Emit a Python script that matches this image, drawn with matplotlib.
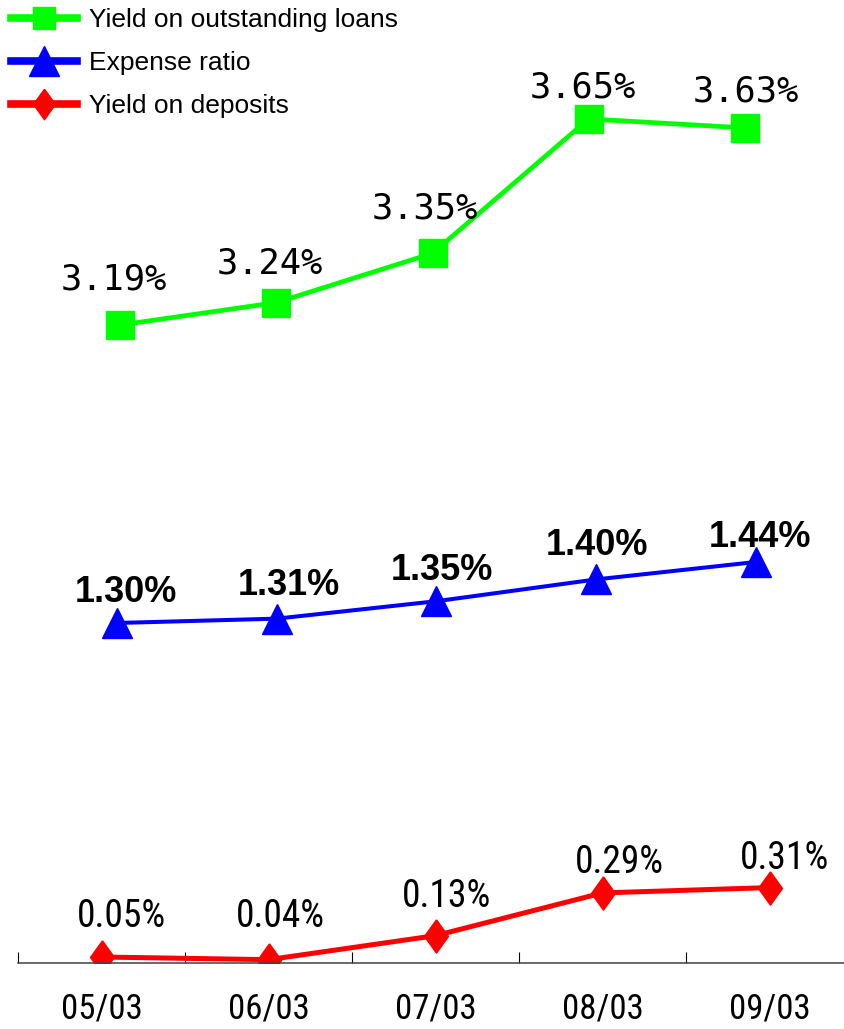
import matplotlib
matplotlib.use("Agg")
import matplotlib.pyplot as plt
from matplotlib.lines import Line2D
from matplotlib import font_manager
from matplotlib.font_manager import FontProperties

# ---- data ----
months = ["05/03", "06/03", "07/03", "08/03", "09/03"]
loan_yield = [3.19, 3.24, 3.35, 3.65, 3.63]
expense_ratio = [1.30, 1.31, 1.35, 1.40, 1.44]
deposit_yield = [0.05, 0.04, 0.13, 0.29, 0.31]

series_names = ["Yield on outstanding loans", "Expense ratio", "Yield on deposits"]

GREEN, BLUE, RED = "#00FF00", "#0000FF", "#FF0000"

W, H = 845, 1029
fig = plt.figure(figsize=(W / 100, H / 100), dpi=100)
fig.patch.set_facecolor("white")


def narrow_font():
    """Pick a condensed sans face if one is installed."""
    cands = []
    for f in font_manager.fontManager.ttflist:
        tag = (f.name + " " + f.fname).lower()
        if ("narrow" in tag or "condensed" in tag or str(f.stretch) in
                ("condensed", "semi-condensed", "extra-condensed")) and \
                f.style == "normal" and f.weight in (400, "normal", "regular") and "mono" not in tag \
                and "serif" not in tag.replace("sans", ""):
            score = 0 if "liberation" in tag else 1 if "roboto" in tag else 2
            cands.append((score, f.fname))
    if cands:
        cands.sort()
        return {"fname": cands[0][1]}, True
    return {"family": "Liberation Sans"}, False


nf_kw, has_narrow = narrow_font()


def narrow_props(size):
    return FontProperties(size=size if has_narrow else size * 0.8, **nf_kw)


def panel(left, right, top, bottom, y_at_top, y_at_bottom):
    """Axes placed by pixel box, with the value range spanning that box."""
    ax = fig.add_axes([left / W, (H - bottom) / H, (right - left) / W, (bottom - top) / H])
    ax.set_xlim(-0.5, len(months) - 0.5)
    ax.set_ylim(y_at_bottom, y_at_top)
    ax.patch.set_alpha(0)
    for s in ax.spines.values():
        s.set_visible(False)
    ax.set_yticks([])
    ax.set_xticks([])
    return ax


def value_range(v_ref, px_ref, px_per_unit, top, bottom):
    return v_ref + (px_ref - top) / px_per_unit, v_ref - (bottom - px_ref) / px_per_unit


x = list(range(len(months)))

# ---- loans panel ----
t, b = 60, 360
ax_g = panel(42, 823, t, b, *value_range(3.19, 325, 448, t, b))
ax_g.plot(x, loan_yield, color=GREEN, lw=3.4, marker="s", ms=19.5, mec=GREEN, mfc=GREEN,
          solid_joinstyle="miter")
g_dx = [-6, -6, -8, -6, 1]
g_dy = [35, 29, 35, 21, 26]
for xi, v, dx, dy in zip(x, loan_yield, g_dx, g_dy):
    ax_g.annotate(f"{v:.2f}%", (xi, v), xytext=(dx, dy), textcoords="offset pixels",
                  ha="center", va="baseline", fontsize=25.5, family="DejaVu Sans Mono",
                  color="black", annotation_clip=False)

# ---- expense ratio panel ----
t, b = 480, 660
ax_b = panel(37, 836, t, b, *value_range(1.30, 623, 436, t, b))
ax_b.plot(x, expense_ratio, color=BLUE, lw=2.9, marker="^", ms=21, mec=BLUE, mfc=BLUE)
b_dx = [9, 12, 5, 1, 4]
b_dy = [21, 24, 21.5, 24.5, 14.5]
for xi, v, dx, dy in zip(x, expense_ratio, b_dx, b_dy):
    ax_b.annotate(f"{v:.2f}%", (xi, v), xytext=(dx, dy), textcoords="offset pixels",
                  ha="center", va="baseline", fontsize=26, fontweight="bold",
                  family="Liberation Sans", color="black", annotation_clip=False)

# ---- deposits panel (carries the category axis) ----
t, b = 800, 963
ax_r = panel(18, 853, t, b, *value_range(0.05, 957, 267, t, b))
diamond = [(0, 1), (0.72, 0), (0, -1), (-0.72, 0), (0, 1)]
ax_r.plot(x, deposit_yield, color=RED, lw=3.6, marker=diamond, ms=24, mec=RED, mfc=RED)
r_dx = [20, 12, 11, 17, 15]
r_dy = [30, 33, 29, 20, 18.5]
for xi, v, dx, dy in zip(x, deposit_yield, r_dx, r_dy):
    ax_r.annotate(f"{v:.2f}%", (xi, v), xytext=(dx, dy), textcoords="offset pixels",
                  ha="center", va="baseline", fontproperties=narrow_props(27),
                  color="black", annotation_clip=False)

ax_r.spines["bottom"].set_visible(True)
ax_r.spines["bottom"].set_color("#404040")
ax_r.spines["bottom"].set_linewidth(1.1)
ax_r.set_xticks([i - 0.5 for i in range(len(months) + 1)])
ax_r.set_xticklabels([])
ax_r.tick_params(axis="x", which="major", direction="in", length=8, width=0.8, color="black")
ax_r.set_xticks(x, minor=True)
ax_r.set_xticklabels(months, minor=True, fontproperties=narrow_props(25))
ax_r.tick_params(axis="x", which="minor", length=0, pad=21)

# ---- legend ----
handles = [
    Line2D([], [], color=GREEN, lw=5.5, marker="s", ms=16, mec=GREEN, mfc=GREEN),
    Line2D([], [], color=BLUE, lw=5.5, marker="^", ms=22, mec=BLUE, mfc=BLUE),
    Line2D([], [], color=RED, lw=5.5, marker=diamond, ms=22, mec=RED, mfc=RED),
]
fig.legend(handles, series_names, loc="upper left", bbox_to_anchor=(6 / W, 1 - 3 / H),
           frameon=False, prop={"family": "Liberation Sans", "size": 19},
           handlelength=2.5, handletextpad=0.45, labelspacing=0.72,
           borderaxespad=0.0, borderpad=0.2)

fig.savefig("out.png", dpi=100, facecolor="white")
